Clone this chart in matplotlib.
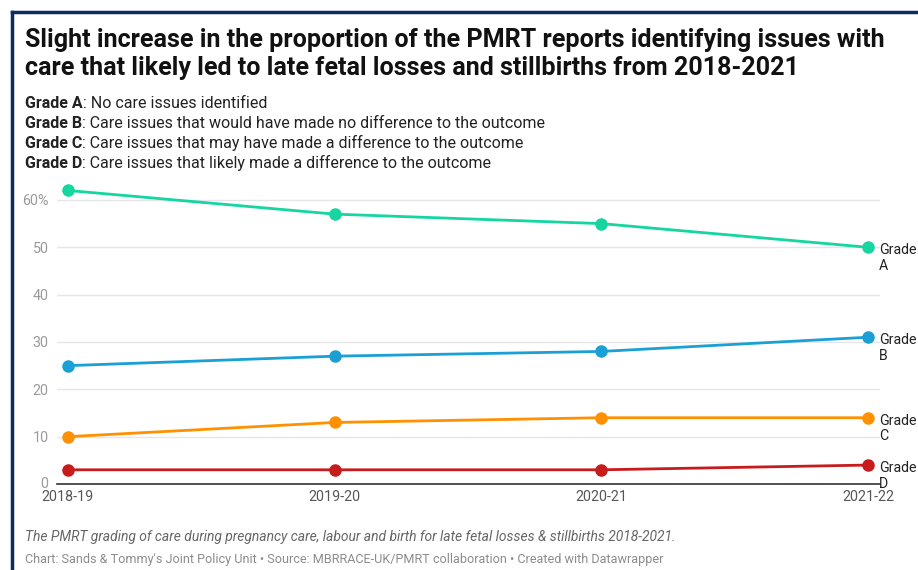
import matplotlib
matplotlib.use("Agg")
import matplotlib.pyplot as plt
from matplotlib.lines import Line2D

plt.rcParams['font.family'] = ['Roboto', 'DejaVu Sans']

years = ["2018-19", "2019-20", "2020-21", "2021-22"]
grade_a = [62, 57, 55, 50]
grade_b = [25, 27, 28, 31]
grade_c = [10, 13, 14, 14]
grade_d = [3, 3, 3, 4]

series_names = ["Grade\nA", "Grade\nB", "Grade\nC", "Grade\nD"]
colors = ["#15d6a0", "#1aa0d4", "#ff9100", "#c81b1c"]

grade_defs = [
    ("Grade A", ": No care issues identified"),
    ("Grade B", ": Care issues that would have made no difference to the outcome"),
    ("Grade C", ": Care issues that may have made a difference to the outcome"),
    ("Grade D", ": Care issues that likely made a difference to the outcome"),
]

W, H = 918, 570
fig = plt.figure(figsize=(W / 100, H / 100), dpi=100)

# frame lines from screenshot
fig.add_artist(Line2D([12 / W, 12 / W], [0, 1 - 12 / H], color="#0c2d62", lw=2.5))
fig.add_artist(Line2D([12 / W, 1], [1 - 12 / H, 1 - 12 / H], color="#0c2d62", lw=2.5))

ax = fig.add_axes([57 / W, 1 - 484 / H, (880 - 57) / W, (484 - 181) / H])
x = list(range(len(years)))
ax.set_xlim(-11 / 266.7, 3 + 12 / 266.7)
ax.set_ylim(0, 64)

for vals, name, c in zip([grade_a, grade_b, grade_c, grade_d], series_names, colors):
    ax.plot(x, vals, color=c, lw=2, marker="o", markersize=8, clip_on=False, zorder=3)
    ax.annotate(name, (x[-1], vals[-1]), xytext=(8, 3), textcoords="offset points",
                ha="left", va="top", fontsize=10.2, color="#222222", linespacing=1.15,
                annotation_clip=False)

ax.set_yticks([0, 10, 20, 30, 40, 50, 60])
ax.set_yticklabels(["0", "10", "20", "30", "40", "50", "60%"])
ax.grid(axis="y", color="#e6e6e6", lw=1)
ax.set_axisbelow(True)
ax.tick_params(axis="y", length=0, pad=6, labelsize=10.3, labelcolor="#9a9a9a")
ax.set_xticks(x)
ax.set_xticklabels(years)
ax.tick_params(axis="x", length=0, pad=4, labelsize=10.3, labelcolor="#555555")
for s in ["top", "right", "left"]:
    ax.spines[s].set_visible(False)
ax.spines["bottom"].set_color("#333333")
ax.spines["bottom"].set_linewidth(1.2)
ax.get_yticklabels()[0].set_verticalalignment("center")

# titles
fig.text(25 / W, 1 - 40 / H, "Slight increase in the proportion of the PMRT reports identifying issues with",
         fontsize=18.1, fontweight="bold", color="#111111", va="center")
fig.text(25 / W, 1 - 68 / H, "care that likely led to late fetal losses and stillbirths from 2018-2021",
         fontsize=18.1, fontweight="bold", color="#111111", va="center")

fig.canvas.draw()
renderer = fig.canvas.get_renderer()
for i, (bold, rest) in enumerate(grade_defs):
    yy = 1 - (103 + 20 * i) / H
    t = fig.text(25 / W, yy, bold, fontsize=11.5, fontweight="bold", color="#222222", va="center")
    bb = t.get_window_extent(renderer)
    fig.text(bb.x1 / W, yy, rest, fontsize=11.5, color="#222222", va="center")

fig.text(25 / W, 1 - 537 / H,
         "The PMRT grading of care during pregnancy care, labour and birth for late fetal losses & stillbirths 2018-2021.",
         fontsize=10, style="italic", color="#666666", va="center")
fig.text(25 / W, 1 - 559 / H,
         "Chart: Sands & Tommy's Joint Policy Unit \u2022 Source: MBRRACE-UK/PMRT collaboration \u2022 Created with Datawrapper",
         fontsize=9.1, color="#8c8c8c", va="center")

fig.savefig("out.png", dpi=100)
